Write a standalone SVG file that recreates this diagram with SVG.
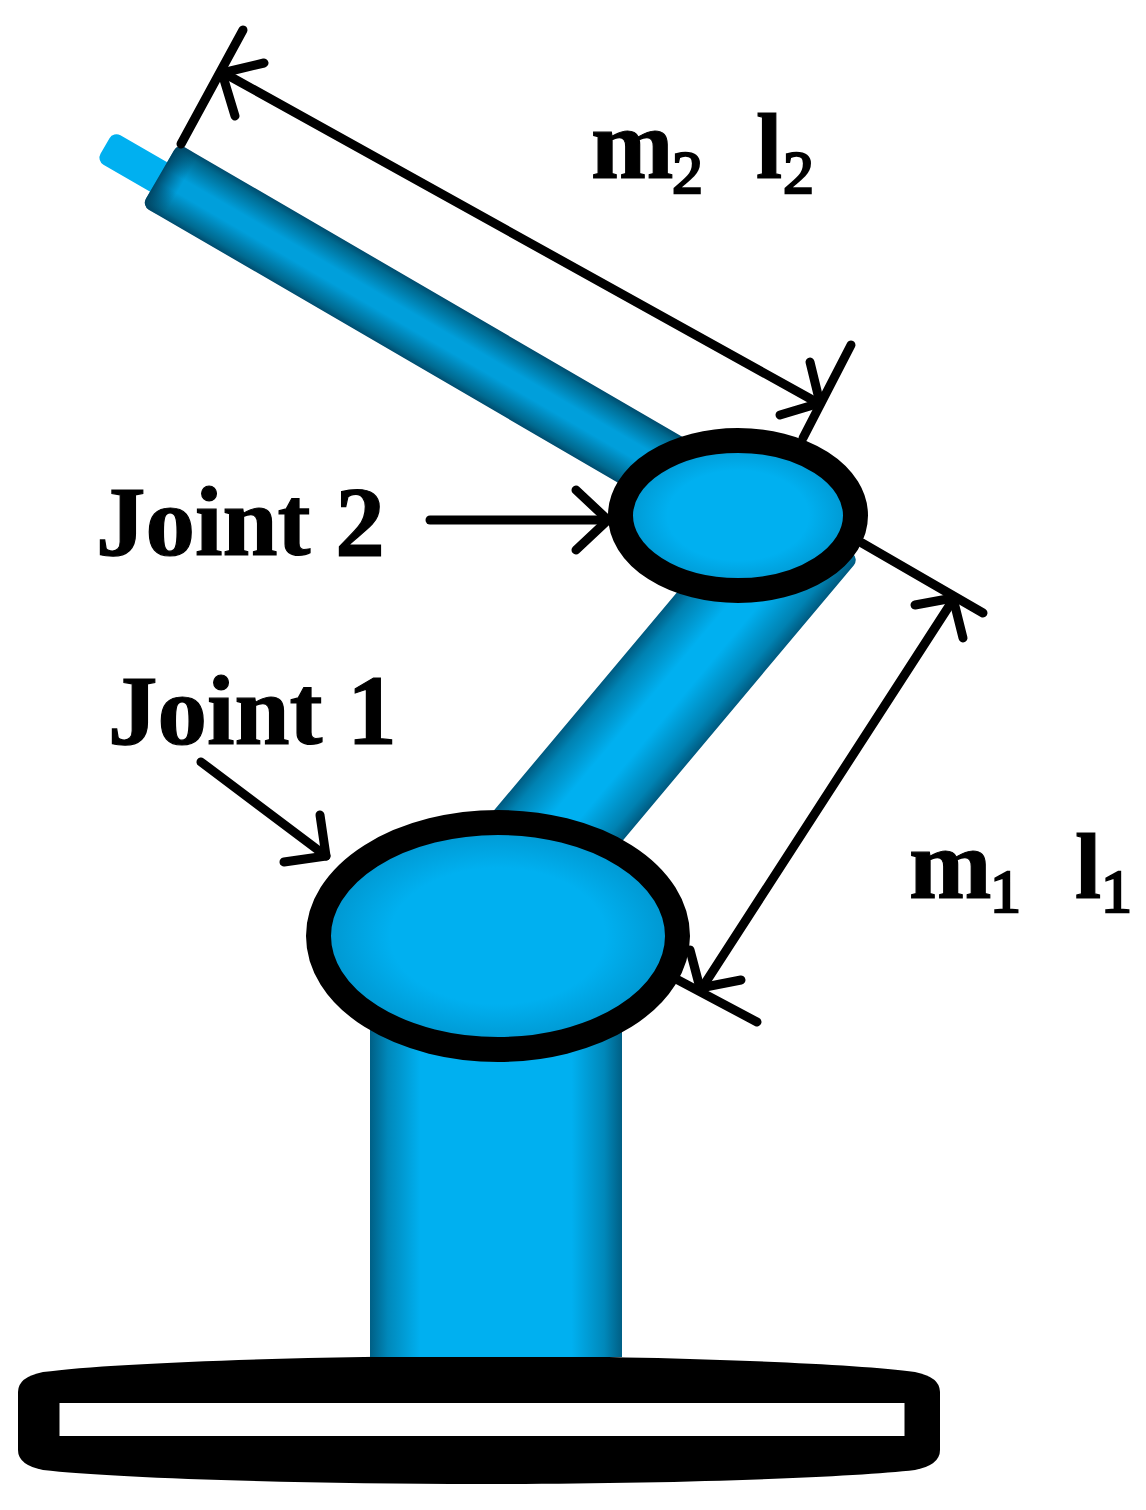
<svg xmlns="http://www.w3.org/2000/svg" width="1146" height="1510" viewBox="0 0 1146 1510">
<style>
.l{fill:none;stroke:#000;stroke-width:9;stroke-linecap:round;stroke-linejoin:round}
.t{font-family:"Liberation Serif","Times New Roman",serif;font-weight:bold;fill:#000;stroke:#000;stroke-width:1.2}
.big{font-size:99px}.m{font-size:99px}.e{font-size:94px}
.s{font-family:"Liberation Serif","Times New Roman",serif;fill:#000;font-size:62px;stroke:#000;stroke-width:2.4}
.ring{stroke:#000;stroke-width:25}
</style>
<defs>
<linearGradient id="g2" x1="0" y1="0" x2="0" y2="1">
<stop offset="0" stop-color="#004c6e"/><stop offset=".1" stop-color="#006a90"/><stop offset=".4" stop-color="#009fdb"/><stop offset=".6" stop-color="#009fdb"/><stop offset=".9" stop-color="#006a90"/><stop offset="1" stop-color="#004c6e"/>
</linearGradient>
<linearGradient id="e2" x1="0" y1="0" x2="1" y2="0">
<stop offset="0" stop-color="#003f5c" stop-opacity=".9"/><stop offset="1" stop-color="#004c6e" stop-opacity="0"/>
</linearGradient>
<linearGradient id="g1" x1="0" y1="0" x2="0" y2="1">
<stop offset="0" stop-color="#005a80"/><stop offset=".12" stop-color="#0082b2"/><stop offset=".4" stop-color="#00b0f0"/><stop offset=".6" stop-color="#00b0f0"/><stop offset=".88" stop-color="#0082b2"/><stop offset="1" stop-color="#005a80"/>
</linearGradient>
<linearGradient id="g0" x1="0" y1="0" x2="1" y2="0">
<stop offset="0" stop-color="#005f85"/><stop offset=".07" stop-color="#0088ba"/><stop offset=".2" stop-color="#00b0f0"/><stop offset=".8" stop-color="#00b0f0"/><stop offset=".93" stop-color="#0088ba"/><stop offset="1" stop-color="#005f85"/>
</linearGradient>
<radialGradient id="rj">
<stop offset="0" stop-color="#00b0f0"/><stop offset=".6" stop-color="#00b0f0"/><stop offset="1" stop-color="#0094cc"/>
</radialGradient>
</defs>
<rect width="1146" height="1510" fill="#fff"/>
<g id="base">
<path d="M18 1392Q18 1377 43 1372C110 1363 300 1356 479 1356S848 1363 915 1372Q940 1377 940 1392V1450Q940 1465 915 1470C848 1478 658 1484 479 1484S110 1478 43 1470Q18 1465 18 1450Z" fill="#000"/>
<rect x="59.500" y="1403" width="845" height="33" fill="#fff"/>
</g>
<g id="column">
<rect x="370" y="1020" width="252" height="337" fill="url(#g0)"/>
</g>
<g id="tip">
<rect x="0" y="-17" width="80" height="34" rx="8" fill="#00b0f0" transform="translate(105 146) rotate(30)"/>
</g>
<g id="link2" transform="translate(160 174.500) rotate(30.200)">
<rect x="0" y="-36" width="665" height="72" rx="8" fill="url(#g2)"/>
<rect x="0" y="-36" width="24" height="72" rx="8" fill="url(#e2)"/>
</g>
<g id="link1" transform="translate(859 559) rotate(130)">
<rect x="0" y="0" width="470" height="118" rx="8" fill="url(#g1)"/>
</g>
<g id="joint2">
<ellipse cx="738" cy="515.500" rx="117.500" ry="75" fill="url(#rj)" class="ring"/>
</g>
<g id="joint1">
<ellipse cx="498" cy="936" rx="179.500" ry="113.500" fill="url(#rj)" class="ring"/>
</g>
<g id="connectors">
<path class="l" d="M243 30L181 144"/>
<path class="l" d="M222 72L818 403"/>
<path class="l" d="M264 63L222 73L235 116"/>
<path class="l" d="M851 345L803 438"/>
<path class="l" d="M810 362L820 403L780 415"/>
<path class="l" d="M862 543L983 613"/>
<path class="l" d="M953 600L702 988"/>
<path class="l" d="M915 605L953 598L963 638"/>
<path class="l" d="M678 980L757 1022"/>
<path class="l" d="M690 950L700 988L741 980"/>
<path class="l" d="M430 520H606"/>
<path class="l" d="M576 490L608 520L576 550"/>
<path class="l" d="M201 762L326 856"/>
<path class="l" d="M320 815L326 856L284 862"/>
</g>
<g id="labels">
<text class="t big" x="96" y="555">Joint 2</text>
<text class="t big" x="108" y="744">Joint 1</text>
<text class="t m" x="591" y="178">m</text>
<text class="s" x="672" y="193">2</text>
<text class="t e" x="756" y="178">l</text>
<text class="s" x="783" y="193">2</text>
<text class="t m" x="909" y="898">m</text>
<text class="s" x="990" y="912">1</text>
<text class="t e" x="1075" y="898">l</text>
<text class="s" x="1101" y="912">1</text>
</g>
</svg>
